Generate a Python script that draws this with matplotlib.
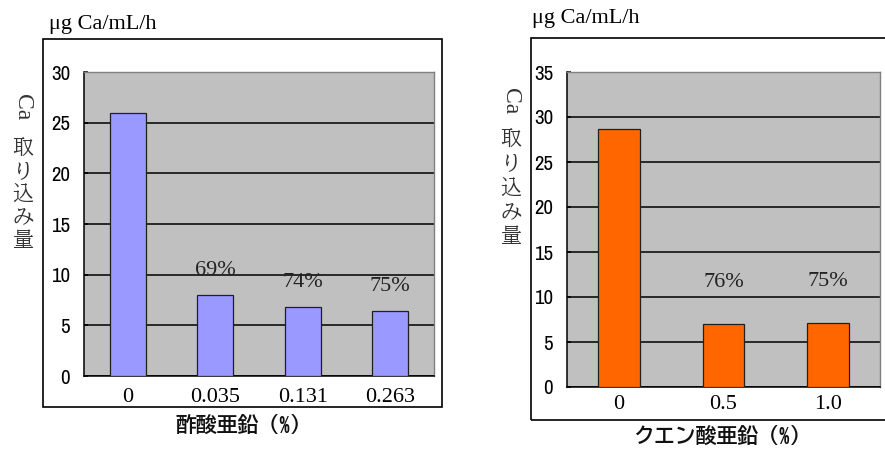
import matplotlib
matplotlib.use('Agg')
import matplotlib.pyplot as plt
from matplotlib.patches import Rectangle
import numpy as np

# 酢酸亜鉛
acetate_conc = ['0', '0.035', '0.131', '0.263']
acetate_ca = [26.0, 8.0, 6.8, 6.4]
acetate_pct = ['', '69%', '74%', '75%']

# クエン酸亜鉛
citrate_conc = ['0', '0.5', '1.0']
citrate_ca = [28.7, 7.0, 7.1]
citrate_pct = ['', '76%', '75%']

W, H = 885, 449
fig = plt.figure(figsize=(W / 100, H / 100), dpi=100)

SERIF = 'Liberation Serif'
NARROW = ['Archivo Narrow', 'DejaVu Sans']
GOTHIC = ['BIZ UDGothic', 'Noto Sans CJK JP', 'DejaVu Sans']
MINCHO = ['BIZ UDMincho', 'Noto Sans CJK JP', 'DejaVu Sans']


def px(x, y):
    return x / W, 1 - y / H


def panel(box, frame, conc, vals, pct, color, ymax, bw, lab_off, xlabel,
          unit_xy, xlab_xy, ylab_x, ca_y, kanji_y, kanji_step, xpad):
    # frame around the whole panel
    fx0, fy0, fx1, fy1 = frame
    fig.patches.append(Rectangle(px(fx0, fy1), (fx1 - fx0) / W, (fy1 - fy0) / H,
                                 transform=fig.transFigure, fill=False,
                                 ec='black', lw=1.2))

    x0, y0, x1, y1 = box
    ax = fig.add_axes([x0 / W, 1 - y1 / H, (x1 - x0) / W, (y1 - y0) / H])
    ax.set_facecolor('#c0c0c0')
    idx = np.arange(len(conc))
    ax.bar(idx, vals, bw, color=color, edgecolor='#202020', lw=0.9, zorder=3)
    for i, t in enumerate(pct):
        if t:
            ax.text(idx[i], vals[i] + lab_off, t, ha='center', va='center',
                    fontsize=16, family=SERIF, color='#222222', zorder=4)

    ax.set_xlim(-0.5, len(conc) - 0.5)
    ax.set_ylim(0, ymax)
    yt = np.arange(0, ymax + 1, 5)
    ax.set_yticks(yt)
    ax.set_yticklabels([str(v) for v in yt], fontsize=15, family=NARROW)
    ax.yaxis.grid(True, color='black', lw=1.1)
    ax.set_axisbelow(True)
    ax.set_xticks(idx)
    ax.set_xticklabels(conc, fontsize=16, family=SERIF)
    ax.tick_params(axis='x', length=0, pad=xpad)
    ax.tick_params(axis='y', direction='in', length=3, width=1.1, pad=10)
    for s in ('left', 'bottom'):
        ax.spines[s].set_color('black')
        ax.spines[s].set_linewidth(1.1)
    for s in ('top', 'right'):
        ax.spines[s].set_color('#808080')
        ax.spines[s].set_linewidth(1.0)

    # unit, axis titles
    fig.text(*px(*unit_xy), 'μg Ca/mL/h', ha='center', va='center',
             fontsize=16, family=SERIF)
    fig.text(*px(*xlab_xy), xlabel, ha='center', va='center', fontsize=15,
             family=GOTHIC, fontweight='bold', color='#111111')
    fig.text(*px(ylab_x, ca_y), 'Ca', ha='center', va='center', rotation=270,
             fontsize=17, family=SERIF, color='#333333')
    for k, ch in enumerate('取り込み量'):
        fig.text(*px(ylab_x, kanji_y + k * kanji_step), ch, ha='center',
                 va='center', fontsize=15, family=MINCHO, color='#333333')
    return ax


panel((84, 72, 434, 376), (43, 39, 442, 407), acetate_conc, acetate_ca,
      acetate_pct, '#9999ff', 30, 0.41, 2.4, '酢酸亜鉛（%）',
      (103, 24), (243, 425), 23, 107, 147, 23.3, 9)

panel((567, 72, 880, 387), (531, 38, 895, 420), citrate_conc, citrate_ca,
      citrate_pct, '#ff6600', 35, 0.40, 4.6, 'クエン酸亜鉛（%）',
      (586, 18), (722, 436), 511, 101, 138, 24.5, 6)

fig.savefig('out.png', dpi=100)
